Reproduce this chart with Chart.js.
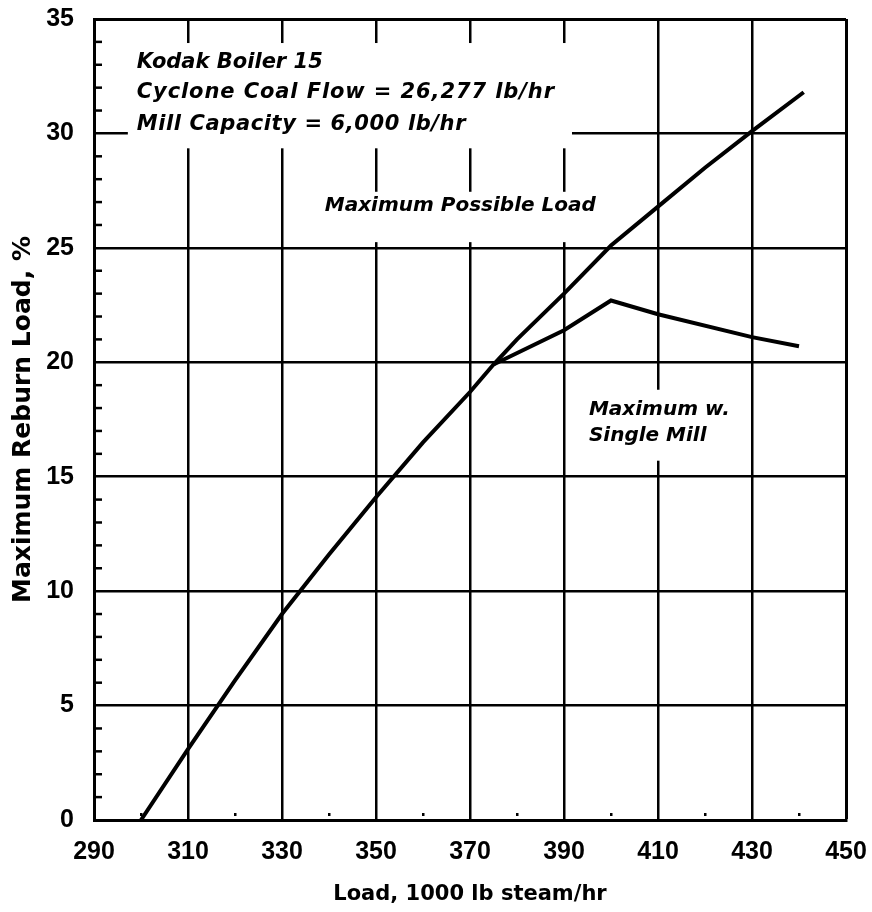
<!DOCTYPE html>
<html>
<head>
<meta charset="utf-8">
<script src="https://cdn.jsdelivr.net/npm/chart.js@4.4.1/dist/chart.umd.min.js"></script>
<style>
  html, body { margin: 0; padding: 0; background: #fff; }
  #wrap { width: 872px; height: 912px; }
</style>
</head>
<body>
<div id="wrap"><canvas id="c" width="872" height="912"></canvas></div>
<script>
// ---- data ----
const loadX       = [300, 310, 320, 330, 340, 350, 360, 370, 375, 380, 390, 400, 410, 420, 430, 441];
const maxPossible = [0, 3.1, 6.1, 9.0, 11.6, 14.1, 16.5, 18.7, 19.9, 21.0, 23.0, 25.1, 26.8, 28.5, 30.1, 31.8];
const singleX     = [375, 390, 400, 410, 430, 440];
const singleMill  = [19.9, 21.4, 22.7, 22.1, 21.1, 20.7];
const xTicks      = [290, 310, 330, 350, 370, 390, 410, 430, 450];
const yTicks      = [0, 5, 10, 15, 20, 25, 30, 35];
const xMinorTicks = [300, 320, 340, 360, 380, 400, 420, 440];
const xTitle = 'Load, 1000 lb steam/hr';
const yTitle = 'Maximum Reburn Load, %';
const noteLines  = ['Kodak Boiler 15', 'Cyclone Coal Flow = 26,277 lb/hr', 'Mill Capacity = 6,000 lb/hr'];
const curveLabel1 = ['Maximum Possible Load'];
const curveLabel2 = ['Maximum w.', 'Single Mill'];

const NOTE_FONT = 'italic bold 21px "DejaVu Sans"';
const NOTE_FONT2 = 'italic bold 20px "DejaVu Sans"';

// annotation blocks (data coords): text anchor + white mask that interrupts grid lines
const blocks = [
  { lines: noteLines, font: NOTE_FONT, spacing: [0, 0.9, 0.6], x: 299.1, ys: [32.85, 31.55, 30.15], mask: [297.2, 33.95, 391.7, 29.35] },
  { lines: curveLabel1, font: NOTE_FONT2, spacing: [0], x: 339.1, ys: [26.6], mask: [337.7, 27.45, 397.7, 25.25] },
  { lines: curveLabel2, font: NOTE_FONT2, spacing: [0, 0], x: 395.3, ys: [17.7, 16.55], mask: [394.5, 18.8, 426.4, 15.7] }
];

const annotPlugin = {
  id: 'annot',
  beforeDatasetsDraw(chart) {
    const ctx = chart.ctx, xs = chart.scales.x, ys = chart.scales.y;
    const area = chart.chartArea;
    ctx.save();
    // white masks behind labels
    ctx.fillStyle = '#fff';
    blocks.forEach(b => {
      const x0 = xs.getPixelForValue(b.mask[0]), y0 = ys.getPixelForValue(b.mask[1]);
      const x1 = xs.getPixelForValue(b.mask[2]), y1 = ys.getPixelForValue(b.mask[3]);
      ctx.fillRect(x0, y0, x1 - x0, y1 - y0);
    });
    // minor ticks on y axis (inside)
    ctx.strokeStyle = '#000';
    ctx.lineWidth = 2.5;
    for (let v = 1; v < 35; v++) {
      if (v % 5 === 0) continue;
      const py = ys.getPixelForValue(v);
      ctx.beginPath();
      ctx.moveTo(area.left, py);
      ctx.lineTo(area.left + 8, py);
      ctx.stroke();
    }
    // minor marks on x axis
    ctx.fillStyle = '#000';
    xMinorTicks.forEach(v => {
      const px = xs.getPixelForValue(v);
      ctx.fillRect(px - 1, area.bottom - 7, 2.5, 3);
    });
    // text
    ctx.fillStyle = '#000';
    ctx.textBaseline = 'alphabetic';
    ctx.textAlign = 'left';
    blocks.forEach(b => {
      ctx.font = b.font;
      b.lines.forEach((t, i) => {
        ctx.letterSpacing = (b.spacing[i] || 0) + 'px';
        ctx.fillText(t, xs.getPixelForValue(b.x), ys.getPixelForValue(b.ys[i]));
      });
    });
    ctx.letterSpacing = '0px';
    ctx.restore();
  }
};

const ctx = document.getElementById('c').getContext('2d');
new Chart(ctx, {
  type: 'line',
  data: {
    datasets: [
      {
        label: 'Maximum Possible Load',
        data: loadX.map((x, i) => ({ x, y: maxPossible[i] })),
        borderColor: '#000', borderWidth: 4, pointRadius: 0, tension: 0,
        borderJoinStyle: 'miter', fill: false
      },
      {
        label: 'Maximum w. Single Mill',
        data: singleX.map((x, i) => ({ x, y: singleMill[i] })),
        borderColor: '#000', borderWidth: 4, pointRadius: 0, tension: 0,
        borderJoinStyle: 'miter', fill: false
      }
    ]
  },
  options: {
    responsive: false,
    animation: false,
    events: [],
    layout: { padding: { top: 19, right: 26, left: 0, bottom: 0 } },
    plugins: { legend: { display: false }, tooltip: { enabled: false }, title: { display: false } },
    scales: {
      x: {
        type: 'linear', min: 290, max: 450,
        afterBuildTicks: s => { s.ticks = xTicks.map(v => ({ value: v })); },
        afterFit: s => { s.height = 92; s.paddingLeft = 0; s.paddingRight = 0; s.paddingTop = 0; s.paddingBottom = 0; },
        grid: {
          color: '#000', drawTicks: false,
          lineWidth: c => (c.tick && c.tick.value === 450) ? 3 : 2.5
        },
        border: { display: true, color: '#000', width: 3 },
        ticks: {
          color: '#000', padding: 17,
          font: { family: '"Liberation Sans", Arial, sans-serif', weight: 'bold', size: 25 },
          maxRotation: 0, autoSkip: false
        },
        title: {
          display: true, text: xTitle, color: '#000',
          font: { family: '"DejaVu Sans"', weight: 'bold', size: 21 },
          padding: { top: 0, bottom: 5 }
        }
      },
      y: {
        type: 'linear', min: 0, max: 35,
        afterBuildTicks: s => { s.ticks = yTicks.map(v => ({ value: v })); },
        afterFit: s => { s.width = 94; s.paddingLeft = 0; s.paddingRight = 0; s.paddingTop = 0; s.paddingBottom = 0; },
        grid: {
          color: '#000', drawTicks: false,
          lineWidth: c => (c.tick && c.tick.value === 35) ? 3 : 2.5
        },
        border: { display: true, color: '#000', width: 3 },
        ticks: {
          color: '#000', padding: 20,
          font: { family: '"Liberation Sans", Arial, sans-serif', weight: 'bold', size: 25 },
          autoSkip: false
        },
        title: {
          display: true, text: yTitle, color: '#000',
          font: { family: '"DejaVu Sans"', weight: 'bold', size: 25 },
          padding: { top: 8, bottom: 0 }
        }
      }
    }
  },
  plugins: [annotPlugin]
});
</script>
</body>
</html>
